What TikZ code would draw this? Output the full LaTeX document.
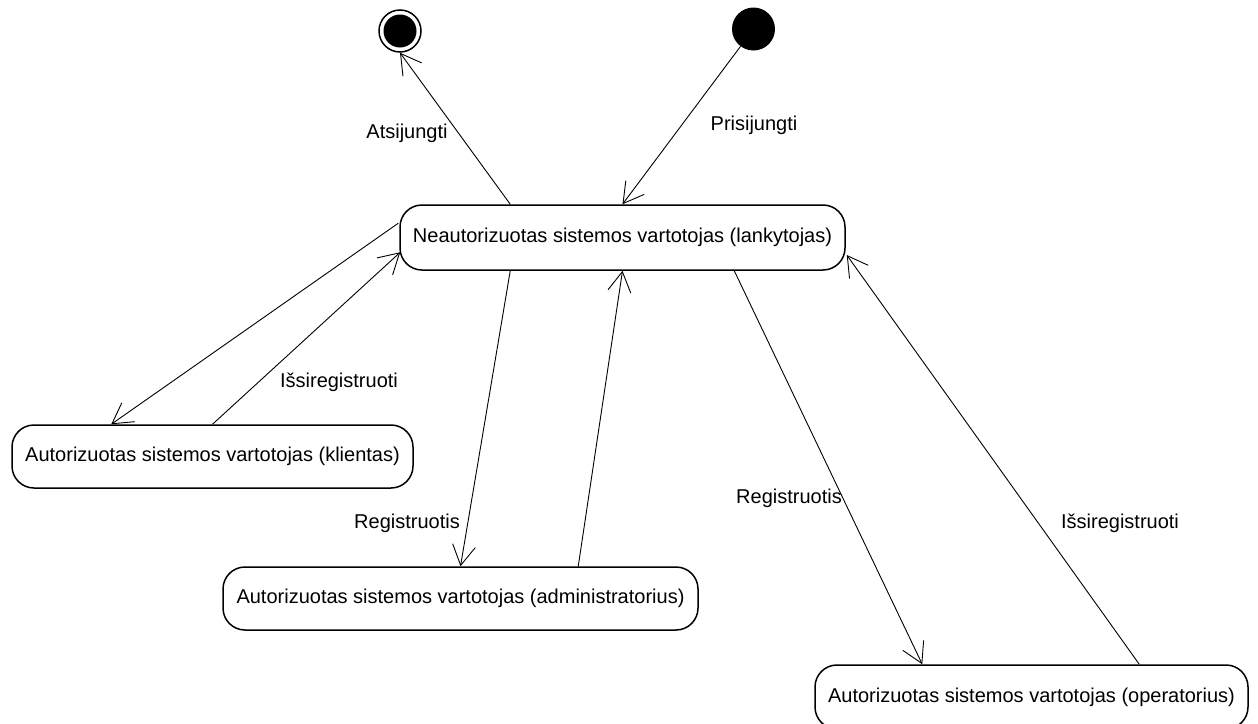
\documentclass[tikz,border=0pt]{standalone}
\usepackage{fontspec}
\setmainfont{Liberation Sans}
\usetikzlibrary{arrows.meta,calc}
\begin{document}
\begin{tikzpicture}[x=1pt,y=-1pt,
  font=\fontsize{20}{24}\selectfont,
  state/.style={draw, line width=1.5pt, rounded corners=22pt, inner sep=0pt, align=center},
  conn/.style={line width=0.9pt, -{Straight Barb[length=20pt,width=23pt]}},
  lbl/.style={inner sep=0pt}]
\useasboundingbox (0,0) rectangle (1258,723);
% states
\node[state, minimum width=445pt, minimum height=65pt] (main) at (622.5,237.5) {Neautorizuotas sistemos vartotojas (lankytojas)};
\node[state, minimum width=401pt, minimum height=63pt] (client) at (212.5,456.5) {Autorizuotas sistemos vartotojas (klientas)};
\node[state, minimum width=475pt, minimum height=63pt] (admin) at (460.5,598.5) {Autorizuotas sistemos vartotojas (administratorius)};
\node[state, minimum width=433pt, minimum height=64pt] (oper) at (1031.5,697) {Autorizuotas sistemos vartotojas (operatorius)};
% pseudo states
\node[circle, fill=black, minimum size=43pt, inner sep=0pt] (init) at (753.5,29) {};
\node[circle, draw, line width=1.5pt, minimum size=42pt, inner sep=0pt] (final) at (400,31) {};
\node[circle, fill=black, minimum size=33pt, inner sep=0pt] (finalin) at (final.center) {};
% connection points
\coordinate (mA) at ($(main.north west)+(111,0)$);
\coordinate (mL1) at ($(main.north west)+(-1,19)$);
\coordinate (mL2) at ($(main.north west)+(1,48)$);
\coordinate (mB1) at ($(main.south west)+(111,0)$);
\coordinate (mB2) at ($(main.south west)+(335,0)$);
\coordinate (mR) at ($(main.east)+(1,17.5)$);
\coordinate (cT) at ($(client.north west)+(100,0)$);
\coordinate (aT) at ($(admin.north west)+(356,0)$);
\coordinate (oT1) at ($(oper.north west)+(108,0)$);
\coordinate (oT2) at ($(oper.north west)+(325,0)$);
% connectors
\draw[conn] (init) -- (main.north);
\draw[conn] (mA) -- (final.south);
\draw[conn] (mL1) -- (cT);
\draw[conn] (client.north) -- (mL2);
\draw[conn] (mB1) -- (admin.north);
\draw[conn] (aT) -- (main.south);
\draw[conn] (mB2) -- (oT1);
\draw[conn] (oT2) -- (mR);
% labels
\node[lbl] (l1) at (407,133) {Atsijungti};
\node[lbl] (l2) at (754,125) {Prisijungti};
\node[lbl] (l3) at (339,382) {Išsiregistruoti};
\node[lbl] (l4) at (407,523) {Registruotis};
\node[lbl] (l5) at (789,498) {Registruotis};
\node[lbl] (l6) at (1120,523) {Išsiregistruoti};
\end{tikzpicture}
\end{document}
